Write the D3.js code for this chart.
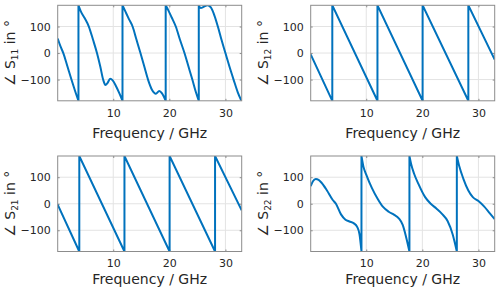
<!DOCTYPE html>
<html>
<head>
<meta charset="utf-8">
<script src="https://cdn.jsdelivr.net/npm/d3@7/dist/d3.min.js"></script>
<style>
  body { margin: 0; background: #fff; }
  text { font-family: "DejaVu Sans", Verdana, sans-serif; fill: #262626; }
</style>
</head>
<body>
<script>
// frequency in GHz, phase in degrees
const freqTicks = [10, 20, 30];
const phaseTicks = [-100, 0, 100];

const s11 = [
  [0.1, 55], [0.6, 25], [1.1, 0], [1.8, -48], [2.55, -100], [3.2, -143], [3.8, -180],
  [3.8, 180], [4.2, 158], [4.9, 132], [5.65, 100], [6.4, 50], [7.1, 0], [7.7, -52],
  [8.2, -100], [8.6, -120], [9.0, -112], [9.45, -97], [9.9, -103], [10.5, -125],
  [11.1, -152], [11.65, -180],
  [11.65, 180], [12.2, 155], [12.8, 128], [13.45, 100], [14.15, 50], [14.85, 0],
  [15.55, -52], [16.2, -100], [16.9, -138], [17.6, -153], [18.2, -143], [18.7, -152],
  [19.35, -180],
  [19.35, 180], [19.8, 162], [20.4, 135], [21.15, 100], [21.9, 50], [22.7, 0],
  [23.4, -50], [24.1, -100], [24.7, -145], [25.25, -180],
  [25.25, 180], [25.6, 170], [26.1, 174], [26.8, 180], [27.4, 172], [27.9, 150],
  [28.65, 100], [29.3, 50], [30.0, 0], [30.7, -50], [31.45, -100], [32.2, -148], [32.85, -180]
];

const s12 = [
  [0.1, -5], [3.95, -180], [3.95, 180], [12.0, -180], [12.0, 180],
  [20.05, -180], [20.05, 180], [28.2, -180], [28.2, 180], [32.9, -25]
];

const s21 = [
  [0.1, -3], [3.95, -180], [3.95, 180], [12.0, -180], [12.0, 180],
  [20.05, -180], [20.05, 180], [28.15, -180], [28.15, 180], [32.9, -25]
];

const s22 = [
  [0.1, 66], [0.5, 85], [1.0, 93], [1.5, 90], [2.0, 80], [3.0, 50], [4.0, 15],
  [4.6, 0], [5.5, -40], [6.3, -60], [7.0, -67], [7.8, -74], [8.4, -88], [8.8, -115],
  [9.15, -180],
  [9.15, 180], [9.5, 140], [10.0, 110], [11.0, 60], [12.0, 20], [13.0, -12],
  [14.0, -30], [15.0, -42], [15.8, -55], [16.5, -80], [17.1, -125], [17.7, -180],
  [17.7, 180], [18.0, 150], [18.5, 115], [19.3, 75], [20.5, 25], [21.5, 0],
  [22.5, -18], [23.5, -38], [24.5, -65], [25.4, -115], [26.15, -180],
  [26.15, 180], [26.6, 140], [27.3, 95], [28.2, 50], [29.0, 25], [30.0, 10],
  [31.0, -10], [32.0, -35], [32.9, -58]
];

const panels = [
  { data: s11, sub: "11", left: 57.7, top: 5.3, titleDy: 37 },
  { data: s12, sub: "12", left: 310.7, top: 5.3, titleDy: 37 },
  { data: s21, sub: "21", left: 57.7, top: 156, titleDy: 32 },
  { data: s22, sub: "22", left: 310.7, top: 156, titleDy: 32 }
];
const pw = 184, ph = 95.5;
const frameColor = "#8c8c8c";
const gridColor = "#e3e3e3";

const svg = d3.select("body").append("svg")
  .attr("width", 500).attr("height", 295);

// split a wrapped phase trace into its continuous pieces
function splitAtJumps(data) {
  const segs = [[data[0]]];
  for (let k = 1; k < data.length; k++) {
    if (data[k][0] === data[k - 1][0]) segs.push([]);
    segs[segs.length - 1].push(data[k]);
  }
  return segs;
}

panels.forEach(function(p, i) {
  const x = d3.scaleLinear().domain([0.1, 32.9]).range([0, pw]);
  const y = d3.scaleLinear().domain([-180, 180]).range([ph, 0]);

  const g = svg.append("g").attr("transform", `translate(${p.left},${p.top})`);

  g.append("clipPath").attr("id", "clip" + i)
    .append("rect").attr("width", pw).attr("height", ph);

  // grid
  g.selectAll(".gx").data(freqTicks).enter().append("line")
    .attr("x1", d => x(d)).attr("x2", d => x(d))
    .attr("y1", 0).attr("y2", ph)
    .attr("stroke", gridColor);
  g.selectAll(".gy").data(phaseTicks).enter().append("line")
    .attr("x1", 0).attr("x2", pw)
    .attr("y1", d => y(d)).attr("y2", d => y(d))
    .attr("stroke", gridColor);

  // axes, ticks inside on all sides
  const bottom = d3.axisBottom(x).tickValues(freqTicks).tickSizeInner(-2).tickSizeOuter(0).tickPadding(8);
  const top = d3.axisTop(x).tickValues(freqTicks).tickSizeInner(-2).tickSizeOuter(0).tickFormat("");
  const left = d3.axisLeft(y).tickValues(phaseTicks).tickSizeInner(-2).tickSizeOuter(0).tickPadding(7);
  const right = d3.axisRight(y).tickValues(phaseTicks).tickSizeInner(-2).tickSizeOuter(0).tickFormat("");

  const styleAxis = function(a) {
    a.select(".domain").remove();
    a.selectAll("line").attr("stroke", frameColor);
    a.selectAll("text").style("font-size", "11px").attr("fill", "#262626")
      .style("font-family", "DejaVu Sans, sans-serif");
  };
  g.append("g").attr("transform", `translate(0,${ph})`).call(bottom).call(styleAxis);
  g.append("g").call(top).call(styleAxis);
  g.append("g").call(left).call(styleAxis);
  g.append("g").attr("transform", `translate(${pw},0)`).call(right).call(styleAxis);

  // data line: smooth pieces joined by the vertical wrap jumps
  const line = d3.line().x(d => x(d[0])).y(d => y(d[1])).curve(d3.curveMonotoneX);
  const path = splitAtJumps(p.data)
    .map((s, k) => { const d = line(s); return k ? "L" + d.slice(1) : d; })
    .join("");
  g.append("path")
    .attr("clip-path", `url(#clip${i})`)
    .attr("fill", "none")
    .attr("stroke", "#0072BD")
    .attr("stroke-width", 2)
    .attr("stroke-linejoin", "round")
    .attr("d", path);

  // frame
  g.append("rect").attr("width", pw).attr("height", ph)
    .attr("fill", "none").attr("stroke", frameColor).attr("stroke-width", 1);

  // x label
  g.append("text")
    .attr("x", pw / 2).attr("y", ph + p.titleDy)
    .attr("text-anchor", "middle")
    .style("font-size", "14px")
    .text("Frequency / GHz");

  // y label
  const yl = g.append("text")
    .attr("transform", `translate(-42.5,${ph / 2}) rotate(-90)`)
    .attr("text-anchor", "middle")
    .style("font-size", "14px");
  yl.append("tspan").text("\u2220 S");
  yl.append("tspan").attr("dy", 3).style("font-size", "9px").text(p.sub);
  yl.append("tspan").attr("dy", -3).text(" in \u00b0");
});
</script>
</body>
</html>
